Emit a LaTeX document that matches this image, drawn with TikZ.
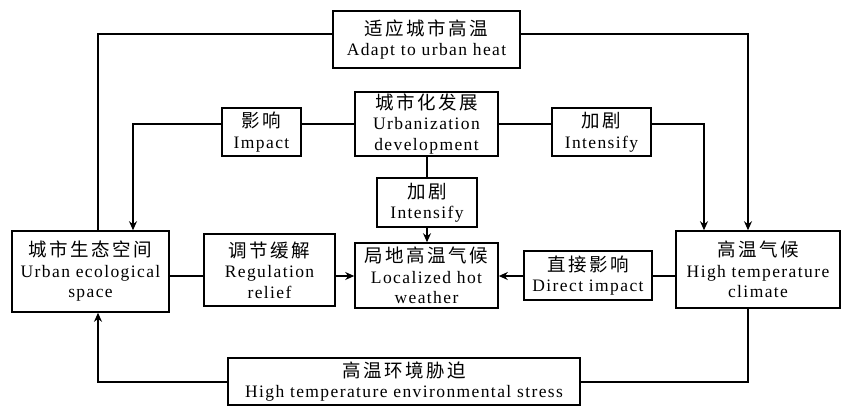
\documentclass[tikz,border=0pt]{standalone}
\usepackage{fontspec}
\setmainfont{Liberation Serif}[LetterSpace=8]
\newfontfamily\cjk{Noto Sans CJK SC}[LetterSpace=14]
\usetikzlibrary{arrows.meta,calc}
\tikzset{
  box/.style={draw, line width=1.6pt, rectangle, inner sep=0pt, align=center,
    font=\fontsize{17.5}{20.5}\selectfont},
  link/.style={line width=1.8pt},
  arr/.style={line width=1.8pt, -{Stealth[length=9pt,width=8pt]}},
}
\newcommand{\zh}[1]{{\cjk\fontsize{18.5}{20.5}\selectfont #1}}
\begin{document}
\begin{tikzpicture}[x=1pt,y=-1pt]
\useasboundingbox (0,0) rectangle (841,408);
\node[box, minimum width=187pt, minimum height=57pt] (adapt) at (426.5,39.5) {\zh{适应城市高温}\\Adapt to urban heat};
\node[box, minimum width=79pt, minimum height=48pt] (impact) at (261.5,132) {\zh{影响}\\Impact};
\node[box, minimum width=143pt, minimum height=64pt] (urban) at (426.5,124) {\zh{城市化发展}\\Urbanization\\development};
\node[box, minimum width=99pt, minimum height=48pt] (intR) at (601.5,132) {\zh{加剧}\\Intensify};
\node[box, minimum width=100pt, minimum height=49pt] (intM) at (427,202.5) {\zh{加剧}\\Intensify};
\node[box, minimum width=157pt, minimum height=81pt] (eco) at (90.5,271.5) {\zh{城市生态空间}\\Urban ecological\\space};
\node[box, minimum width=131pt, minimum height=72pt] (reg) at (269.5,270) {\zh{调节缓解}\\Regulation\\relief};
\node[box, minimum width=143pt, minimum height=65pt] (local) at (426.5,275.5) {\zh{局地高温气候}\\Localized hot\\weather};
\node[box, minimum width=128pt, minimum height=49pt] (direct) at (588,275.5) {\zh{直接影响}\\Direct impact};
\node[box, minimum width=164pt, minimum height=77pt] (climate) at (758,269.5) {\zh{高温气候}\\High temperature\\climate};
\node[box, minimum width=352pt, minimum height=47pt] (stress) at (404,381.5) {\zh{高温环境胁迫}\\High temperature environmental stress};

% top loop
\coordinate (aL) at (98,34);
\coordinate (aR) at (748,34);
\draw[link] (eco.north -| aL) -- (aL) -- (adapt.west |- aL);
\draw[arr] (adapt.east |- aR) -- (aR) -- (climate.north -| aR);
% impact
\coordinate (iL) at (133,124);
\draw[link] (urban.west |- iL) -- (impact.east |- iL);
\draw[arr] (impact.west |- iL) -- (iL) -- (eco.north -| iL);
% intensify right
\coordinate (rR) at (704,124);
\draw[link] (urban.east |- rR) -- (intR.west |- rR);
\draw[arr] (intR.east |- rR) -- (rR) -- (climate.north -| rR);
% middle
\coordinate (mX) at (427,0);
\draw[link] (urban.south -| mX) -- (intM.north -| mX);
\draw[arr] (intM.south -| mX) -- (local.north -| mX);
% middle row
\coordinate (rowY) at (0,276);
\draw[link] (eco.east |- rowY) -- (reg.west |- rowY);
\draw[arr] (reg.east |- rowY) -- (local.west |- rowY);
\draw[link] (climate.west |- rowY) -- (direct.east |- rowY);
\draw[arr] (direct.west |- rowY) -- (local.east |- rowY);
% bottom loop
\coordinate (bR) at (748,382);
\coordinate (bL) at (98,382);
\draw[link] (climate.south -| bR) -- (bR) -- (stress.east |- bR);
\draw[arr] (stress.west |- bL) -- (bL) -- (eco.south -| bL);
\end{tikzpicture}
\end{document}
